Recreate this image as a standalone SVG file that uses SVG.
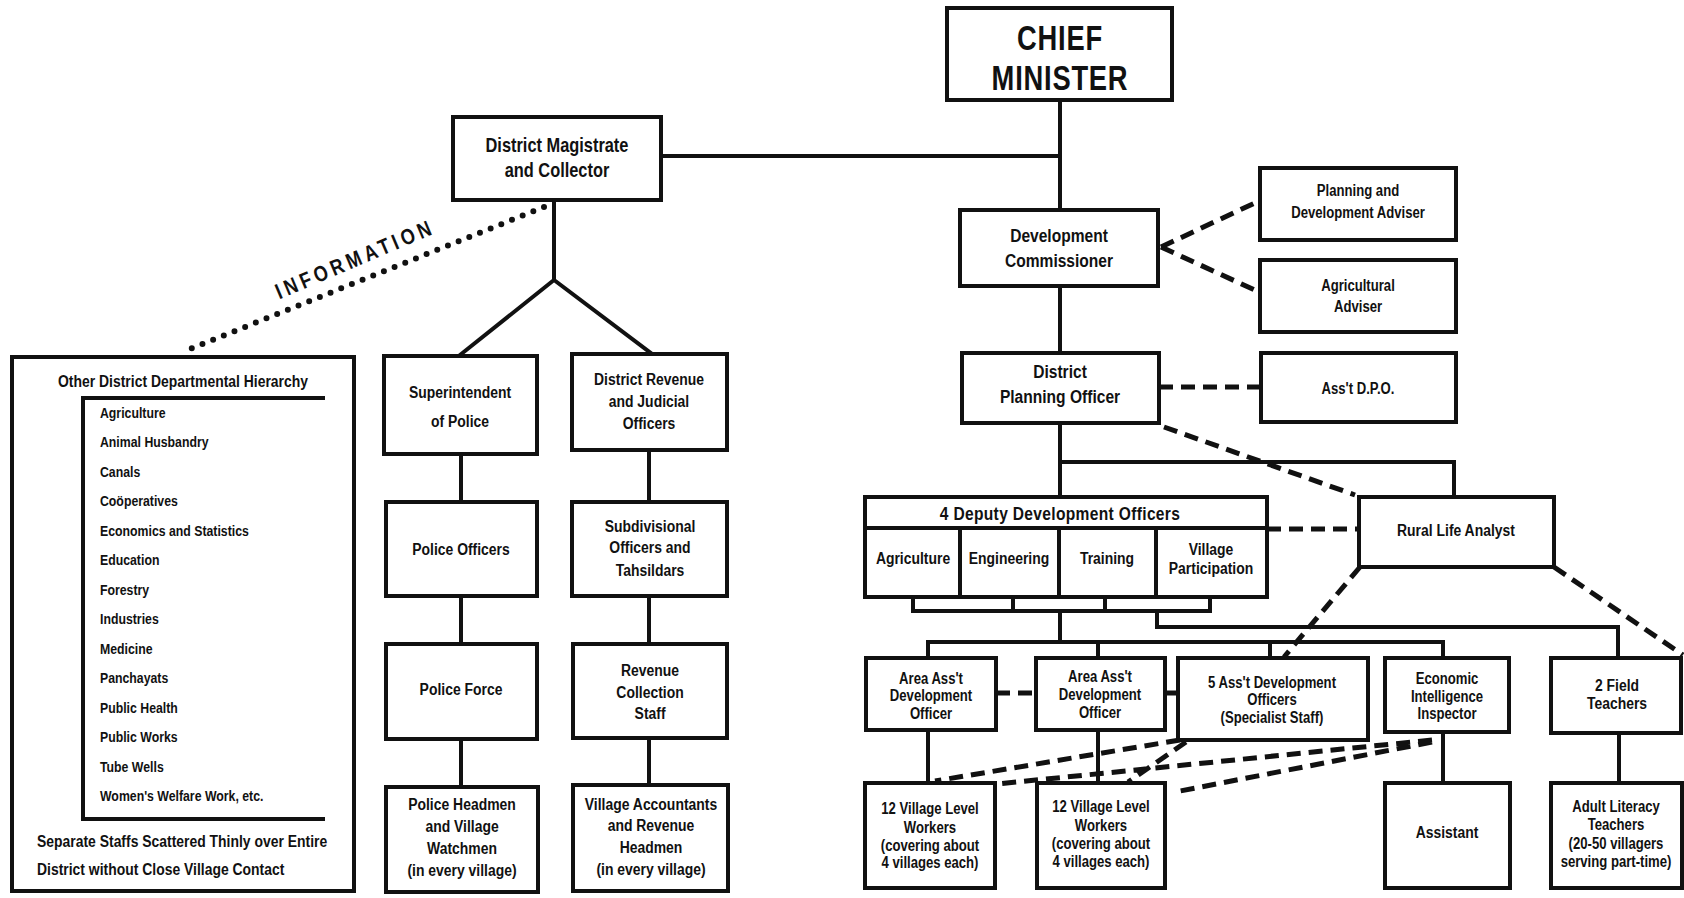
<svg xmlns="http://www.w3.org/2000/svg" width="1684" height="898" viewBox="0 0 1684 898">
  <style>
    .bg { fill: #ffffff; }
    .box { fill: #ffffff; stroke: #111111; stroke-width: 4; }
    .ln { fill: none; stroke: #111111; stroke-width: 4; stroke-linecap: square; }
    .dash { fill: none; stroke: #111111; stroke-width: 5; stroke-dasharray: 14 8; }
    .dots { fill: none; stroke: #111111; stroke-width: 6; stroke-linecap: round; stroke-dasharray: 0 11.5; }
    text { font-family: "Liberation Sans", Arial, sans-serif; font-weight: bold; fill: #111111; }
    /* condensed lettering: each label is narrowed about its own box */
    text.c, text.l { transform-box: fill-box; transform: scaleX(0.82); }
    text.c { text-anchor: middle; transform-origin: 50% 50%; }
    text.l { transform-origin: 0% 50%; }
    .s15 { font-size: 15px; }
    .s16 { font-size: 16px; }
    .s17 { font-size: 17px; }
    .s19 { font-size: 19px; }
    .s20 { font-size: 20px; }
    text.big { font-size: 36px; letter-spacing: 1px; transform: scaleX(0.76); }
    .info { font-size: 22px; letter-spacing: 5px; }
  </style>
  <rect class="bg" x="0" y="0" width="1684" height="898"/>

  <!-- connectors -->
  <g id="connectors">
    <!-- magistrate branch -->
    <path class="ln" d="M661,156 H1060"/>
    <path class="ln" d="M554,200 V280 M460,355 L554,280 L652,354"/>
    <path class="ln" d="M461,454 V502 M461,596 V644 M461,739 V787"/>
    <path class="ln" d="M649,450 V502 M649,596 V644 M649,738 V785"/>
    <path class="dots" d="M544,207 L190,349"/>
    <!-- development branch -->
    <path class="ln" d="M1060,100 V210 M1060,286 V353 M1060,423 V497 M1060,462 H1454 V497"/>
    <path class="ln" d="M913,597 V611 H1210 V597 M1013,597 V611 M1105,597 V611"/>
    <path class="ln" d="M1060,611 V642 M928,658 V642 H1443 V658 M1098,642 V658 M1270,642 V658"/>
    <path class="ln" d="M1157,611 V627 H1618 V658"/>
    <path class="ln" d="M928,730 V783 M1098,730 V783 M1443,732 V783 M1619,733 V783"/>
    <!-- staff / advisory links -->
    <path class="dash" d="M1161,247 L1259,201 M1161,247 L1259,292"/>
    <path class="dash" d="M1159,387 H1261"/>
    <path class="dash" d="M1164,427 L1355,495"/>
    <path class="dash" d="M1267,529 H1359"/>
    <path class="dash" d="M1360,567 L1284,657"/>
    <path class="dash" d="M1554,567 L1683,655"/>
    <path class="dash" d="M996,693 H1036 M1165,693 H1178"/>
    <path class="dash" d="M1180,740 L935,781 M1186,742 L1128,782 M1432,740 L997,784 M1432,742 L1175,792"/>
  </g>

  <text class="info" transform="translate(358,266) rotate(-23) scale(0.82,1)" text-anchor="middle">INFORMATION</text>

  <g id="chief-minister">
    <rect class="box" x="947" y="8" width="225" height="92"/>
    <text class="big c" x="1060" y="50">CHIEF</text>
    <text class="big c" x="1060" y="90">MINISTER</text>
  </g>

  <g id="district-magistrate">
    <rect class="box" x="453" y="117" width="208" height="83"/>
    <text class="s20 c" x="557" y="152">District Magistrate</text>
    <text class="s20 c" x="557" y="177">and Collector</text>
  </g>

  <g id="other-departments">
    <rect class="box" x="12" y="357" width="342" height="534"/>
    <text class="s17 c" x="183" y="387">Other District Departmental Hierarchy</text>
    <path class="ln" d="M323,398 H83 V819 H323"/>
    <g class="s15">
      <text class="l" x="100" y="418">Agriculture</text>
      <text class="l" x="100" y="447.5">Animal Husbandry</text>
      <text class="l" x="100" y="477">Canals</text>
      <text class="l" x="100" y="506.5">Coöperatives</text>
      <text class="l" x="100" y="536">Economics and Statistics</text>
      <text class="l" x="100" y="565.5">Education</text>
      <text class="l" x="100" y="595">Forestry</text>
      <text class="l" x="100" y="624.5">Industries</text>
      <text class="l" x="100" y="654">Medicine</text>
      <text class="l" x="100" y="683.5">Panchayats</text>
      <text class="l" x="100" y="713">Public Health</text>
      <text class="l" x="100" y="742.5">Public Works</text>
      <text class="l" x="100" y="772">Tube Wells</text>
      <text class="l" x="100" y="801.5">Women's Welfare Work, etc.</text>
    </g>
    <text class="s17 l" x="37" y="847">Separate Staffs Scattered Thinly over Entire</text>
    <text class="s17 l" x="37" y="875">District without Close Village Contact</text>
  </g>

  <g id="superintendent-police">
    <rect class="box" x="384" y="356" width="153" height="98"/>
    <text class="s17 c" x="460" y="398">Superintendent</text>
    <text class="s17 c" x="460" y="427">of Police</text>
  </g>
  <g id="police-officers">
    <rect class="box" x="386" y="502" width="151" height="94"/>
    <text class="s17 c" x="461" y="555">Police Officers</text>
  </g>
  <g id="police-force">
    <rect class="box" x="386" y="644" width="151" height="95"/>
    <text class="s17 c" x="461" y="695">Police Force</text>
  </g>
  <g id="police-headmen">
    <rect class="box" x="386" y="787" width="152" height="105"/>
    <text class="s17 c" x="462" y="810">Police Headmen</text>
    <text class="s17 c" x="462" y="832">and Village</text>
    <text class="s17 c" x="462" y="854">Watchmen</text>
    <text class="s17 c" x="462" y="876">(in every village)</text>
  </g>

  <g id="revenue-judicial">
    <rect class="box" x="572" y="354" width="155" height="96"/>
    <text class="s17 c" x="649" y="385">District Revenue</text>
    <text class="s17 c" x="649" y="407">and Judicial</text>
    <text class="s17 c" x="649" y="429">Officers</text>
  </g>
  <g id="subdivisional">
    <rect class="box" x="572" y="502" width="155" height="94"/>
    <text class="s17 c" x="650" y="532">Subdivisional</text>
    <text class="s17 c" x="650" y="553">Officers and</text>
    <text class="s17 c" x="650" y="576">Tahsildars</text>
  </g>
  <g id="revenue-collection">
    <rect class="box" x="573" y="644" width="154" height="94"/>
    <text class="s17 c" x="650" y="676">Revenue</text>
    <text class="s17 c" x="650" y="698">Collection</text>
    <text class="s17 c" x="650" y="719">Staff</text>
  </g>
  <g id="village-accountants">
    <rect class="box" x="573" y="785" width="155" height="106"/>
    <text class="s17 c" x="651" y="810">Village Accountants</text>
    <text class="s17 c" x="651" y="831">and Revenue</text>
    <text class="s17 c" x="651" y="853">Headmen</text>
    <text class="s17 c" x="651" y="875">(in every village)</text>
  </g>

  <g id="development-commissioner">
    <rect class="box" x="960" y="210" width="198" height="76"/>
    <text class="s19 c" x="1059" y="242">Development</text>
    <text class="s19 c" x="1059" y="267">Commissioner</text>
  </g>
  <g id="planning-adviser">
    <rect class="box" x="1260" y="168" width="196" height="72"/>
    <text class="s16 c" x="1358" y="196">Planning and</text>
    <text class="s16 c" x="1358" y="218">Development Adviser</text>
  </g>
  <g id="agricultural-adviser">
    <rect class="box" x="1260" y="260" width="196" height="72"/>
    <text class="s16 c" x="1358" y="291">Agricultural</text>
    <text class="s16 c" x="1358" y="312">Adviser</text>
  </g>
  <g id="district-planning-officer">
    <rect class="box" x="962" y="353" width="197" height="70"/>
    <text class="s19 c" x="1060" y="378">District</text>
    <text class="s19 c" x="1060" y="403">Planning Officer</text>
  </g>
  <g id="asst-dpo">
    <rect class="box" x="1261" y="353" width="195" height="69"/>
    <text class="s16 c" x="1358" y="394">Ass't D.P.O.</text>
  </g>
  <g id="rural-life-analyst">
    <rect class="box" x="1359" y="497" width="195" height="70"/>
    <text class="s17 c" x="1456" y="536">Rural Life Analyst</text>
  </g>

  <g id="deputy-development-officers">
    <rect class="box" x="865" y="497" width="402" height="100"/>
    <path class="ln" d="M865,528 H1267 M960,528 V597 M1059,528 V597 M1156,528 V597"/>
    <text class="s19 c" x="1060" y="520" style="letter-spacing:0.4px">4 Deputy Development Officers</text>
    <text class="s17 c" x="913" y="564">Agriculture</text>
    <text class="s17 c" x="1009" y="564">Engineering</text>
    <text class="s17 c" x="1107" y="564">Training</text>
    <text class="s17 c" x="1211" y="555">Village</text>
    <text class="s17 c" x="1211" y="574">Participation</text>
  </g>

  <g id="area-officer-1">
    <rect class="box" x="866" y="658" width="130" height="72"/>
    <text class="s16 c" x="931" y="684">Area Ass't</text>
    <text class="s16 c" x="931" y="701">Development</text>
    <text class="s16 c" x="931" y="719">Officer</text>
  </g>
  <g id="area-officer-2">
    <rect class="box" x="1036" y="658" width="129" height="72"/>
    <text class="s16 c" x="1100" y="682">Area Ass't</text>
    <text class="s16 c" x="1100" y="700">Development</text>
    <text class="s16 c" x="1100" y="718">Officer</text>
  </g>
  <g id="specialist-staff">
    <rect class="box" x="1178" y="658" width="190" height="82"/>
    <text class="s16 c" x="1272" y="688">5 Ass't Development</text>
    <text class="s16 c" x="1272" y="705">Officers</text>
    <text class="s16 c" x="1272" y="723">(Specialist Staff)</text>
  </g>
  <g id="economic-inspector">
    <rect class="box" x="1385" y="658" width="124" height="74"/>
    <text class="s16 c" x="1447" y="684">Economic</text>
    <text class="s16 c" x="1447" y="702">Intelligence</text>
    <text class="s16 c" x="1447" y="719">Inspector</text>
  </g>
  <g id="field-teachers">
    <rect class="box" x="1551" y="658" width="130" height="75"/>
    <text class="s17 c" x="1617" y="691">2 Field</text>
    <text class="s17 c" x="1617" y="709">Teachers</text>
  </g>

  <g id="village-workers-1">
    <rect class="box" x="865" y="783" width="130" height="105"/>
    <text class="s16 c" x="930" y="814">12 Village Level</text>
    <text class="s16 c" x="930" y="833">Workers</text>
    <text class="s16 c" x="930" y="851">(covering about</text>
    <text class="s16 c" x="930" y="868">4 villages each)</text>
  </g>
  <g id="village-workers-2">
    <rect class="box" x="1037" y="783" width="128" height="105"/>
    <text class="s16 c" x="1101" y="812">12 Village Level</text>
    <text class="s16 c" x="1101" y="831">Workers</text>
    <text class="s16 c" x="1101" y="849">(covering about</text>
    <text class="s16 c" x="1101" y="867">4 villages each)</text>
  </g>
  <g id="assistant">
    <rect class="box" x="1385" y="783" width="125" height="105"/>
    <text class="s17 c" x="1447" y="838">Assistant</text>
  </g>
  <g id="literacy-teachers">
    <rect class="box" x="1551" y="783" width="131" height="105"/>
    <text class="s16 c" x="1616" y="812">Adult Literacy</text>
    <text class="s16 c" x="1616" y="830">Teachers</text>
    <text class="s16 c" x="1616" y="849">(20-50 villagers</text>
    <text class="s16 c" x="1616" y="867">serving part-time)</text>
  </g>
</svg>
